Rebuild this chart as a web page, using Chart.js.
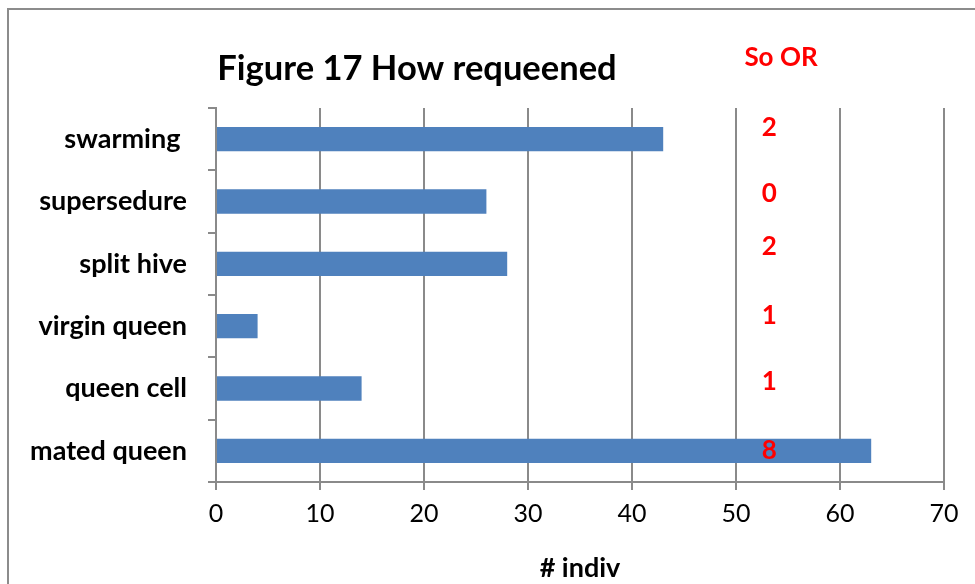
<!DOCTYPE html>
<html>
<head>
<meta charset="utf-8">
<script src="https://cdn.jsdelivr.net/npm/chart.js@4.4.1/dist/chart.umd.min.js"></script>
<style>
  html, body { margin: 0; padding: 0; background: #fff; }
  #wrap { width: 975px; height: 584px; position: relative; }
</style>
</head>
<body>
<div id="wrap"><canvas id="c" width="975" height="584"></canvas></div>
<script>
// How colonies were requeened: number of individuals per method
const categories = ['swarming ', 'supersedure', 'split hive', 'virgin queen', 'queen cell', 'mated queen'];
const indivCounts = [43, 26, 28, 4, 14, 63];
// Southern Oregon counts, written in red beside each method
const soOrCounts = [2, 0, 2, 1, 1, 8];
const xTicks = [0, 10, 20, 30, 40, 50, 60, 70];

const FONT = 'Lato, "Liberation Sans", sans-serif';
const GRID = '#8a8a8a';

// Frame, title and the red "So OR" column
const decorations = {
  id: 'decorations',
  beforeDraw(chart) {
    const ctx = chart.ctx;
    ctx.save();
    ctx.fillStyle = '#fff';
    ctx.fillRect(0, 0, chart.width, chart.height);
    ctx.strokeStyle = '#8c8c8c';
    ctx.lineWidth = 2;
    ctx.strokeRect(8, 9, chart.width + 20, chart.height + 20);
    ctx.restore();
  },
  afterDraw(chart) {
    const ctx = chart.ctx;
    const x = chart.scales.x;
    const y = chart.scales.y;
    ctx.save();
    ctx.fillStyle = '#000';
    ctx.font = 'bold 34.5px ' + FONT;
    ctx.textAlign = 'center';
    ctx.textBaseline = 'middle';
    ctx.fillText('Figure 17 How requeened', 417, 69);

    ctx.fillStyle = '#ff0000';
    ctx.font = 'bold 26px ' + FONT;
    ctx.fillText('So OR', 781, 58);
    const nudge = [-12, -8, -17, -11, -7, 0];
    const cx = x.getPixelForValue(53.2);
    soOrCounts.forEach((v, i) => {
      ctx.fillText(String(v), cx, y.getPixelForValue(i) + nudge[i]);
    });
    ctx.restore();
  }
};

new Chart(document.getElementById('c'), {
  type: 'bar',
  data: {
    labels: categories,
    datasets: [{
      data: indivCounts,
      backgroundColor: '#4f81bd',
      borderColor: '#4f81bd',
      borderWidth: 0,
      barPercentage: 0.39,
      categoryPercentage: 1
    }]
  },
  options: {
    indexAxis: 'y',
    responsive: false,
    animation: false,
    devicePixelRatio: 1,
    layout: { padding: { top: 108, right: 31, left: 0, bottom: 0 } },
    plugins: {
      legend: { display: false },
      title: { display: false },
      tooltip: { enabled: false }
    },
    scales: {
      x: {
        min: 0,
        max: 70,
        afterBuildTicks(scale) { scale.ticks = xTicks.map(v => ({ value: v })); },
        afterFit(scale) { scale.height = 102; },
        grid: { color: GRID, lineWidth: 2, tickLength: 8, drawTicks: true },
        border: { color: GRID, width: 2 },
        ticks: { color: '#000', font: { family: FONT, size: 25 }, padding: 9 },
        title: {
          display: true,
          text: '# indiv',
          color: '#000',
          font: { family: FONT, size: 27, weight: 'bold' },
          padding: { top: 6, bottom: 0 }
        }
      },
      y: {
        afterFit(scale) { scale.width = 216; },
        grid: { color: GRID, lineWidth: 2, tickLength: 8, drawOnChartArea: false, offset: true },
        border: { color: GRID, width: 2 },
        ticks: { color: '#000', font: { family: FONT, size: 27, weight: 'bold' }, padding: 21 }
      }
    }
  },
  plugins: [decorations]
});
</script>
</body>
</html>
